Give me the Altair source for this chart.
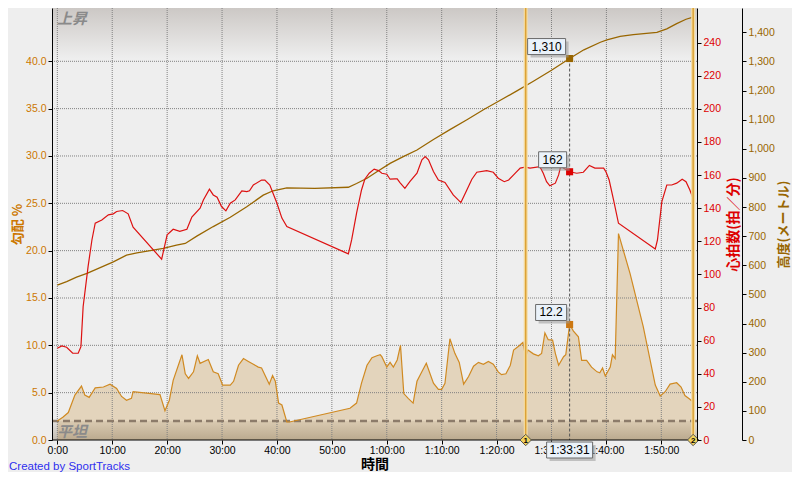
import altair as alt
import pandas as pd

# ---------------- data ----------------
grade_t = [0.0, 1.0, 2.0, 3.2, 4.4, 5.0, 5.8, 6.9, 8.4, 9.6, 10.8, 11.7, 12.6, 13.5, 13.8, 18.7,
           19.6, 20.4, 21.1, 22.7, 23.3, 23.9, 24.8, 25.5, 26.0, 27.5, 28.4, 29.3, 30.1, 31.5,
           32.1, 33.0, 33.9, 34.8, 35.7, 36.6, 37.2, 38.6, 39.2, 39.7, 40.3, 40.9, 41.8, 42.3,
           53.3, 54.5, 55.4, 56.4, 57.3, 58.2, 58.8, 59.1, 60.0, 60.6, 61.2, 61.9, 62.5, 63.1,
           63.9, 64.8, 65.5, 66.2, 67.2, 68.5, 69.4, 70.0, 70.6, 71.5, 72.4, 73.2, 74.0, 74.9,
           75.8, 76.7, 77.6, 78.5, 79.4, 80.3, 80.9, 81.7, 82.5, 83.1, 84.0, 84.8, 85.3, 85.7,
           86.7, 87.6, 88.2, 88.8, 89.4, 90.2, 90.7, 91.3, 92.2, 92.6, 93.3, 94.0, 94.9, 95.5,
           96.4, 97.3, 98.3, 98.8, 99.3, 99.8, 100.7, 101.1, 101.6, 102.2, 104.3, 106.7, 108.9,
           109.8, 110.7, 111.6, 112.8, 113.6, 114.3, 115.2, 116.0]
grade_v = [2.0, 2.4, 2.9, 4.75, 5.7, 4.75, 4.5, 5.5, 5.6, 5.9, 5.45, 4.6, 4.2, 4.4, 5.1, 4.8,
           3.1, 4.2, 6.3, 9.0, 7.0, 6.5, 7.2, 8.9, 8.1, 8.5, 7.2, 7.0, 5.8, 5.8,
           6.2, 7.9, 8.6, 8.3, 8.0, 7.7, 7.6, 5.9, 6.8, 6.2, 3.9, 3.7, 1.9, 1.9,
           3.35, 3.9, 6.0, 7.9, 8.7, 8.9, 9.0, 8.8, 7.7, 8.2, 7.7, 8.45, 10.0, 4.9,
           4.4, 3.9, 6.2, 7.0, 8.1, 6.0, 5.35, 5.35, 6.0, 10.7, 9.15, 8.2, 5.9, 6.7,
           7.8, 8.2, 8.0, 8.3, 8.0, 7.2, 6.9, 7.0, 7.9, 9.5, 9.9, 10.3, 8.8, 9.5,
           9.1, 8.9, 9.15, 11.3, 10.6, 10.55, 9.15, 7.9, 8.8, 9.0, 12.2, 11.5, 10.9, 8.4,
           8.4, 7.7, 7.2, 7.1, 7.6, 6.75, 7.7, 9.0, 8.6, 21.8, 17.6, 12.0, 5.8,
           4.65, 5.1, 5.9, 6.05, 5.6, 4.7, 4.3, 3.9]

hr_t = [0.0, 0.8, 1.7, 2.8, 3.8, 4.3, 4.7, 5.6, 6.3, 6.9, 8.1, 9.3, 10.2, 10.8, 11.9, 12.9,
        13.8, 19.0, 20.0, 21.1, 22.3, 23.6, 24.5, 26.0, 26.6, 27.7, 28.4, 29.1, 29.9, 30.7,
        31.5, 32.4, 33.6, 34.5, 35.0, 35.7, 37.2, 37.8, 38.7, 40.0, 40.9, 41.8, 53.0, 53.6,
        54.5, 55.4, 56.0, 56.8, 57.7, 58.5, 59.1, 60.0, 60.6, 61.5, 61.9, 62.4, 63.3, 64.2,
        65.5, 66.4, 67.0, 67.6, 68.5, 69.4, 70.6, 72.1, 73.5, 74.3, 75.5, 76.4, 78.2, 79.4,
        80.3, 81.4, 82.2, 83.1, 84.3, 85.2, 86.1, 87.9, 88.5, 89.1, 89.7, 90.7, 91.3, 91.7,
        92.3, 93.3, 94.6, 95.8, 96.9, 97.9, 99.5, 99.9, 100.5, 101.3, 102.2, 108.9, 109.3,
        110.1, 111.0, 111.9, 112.8, 113.8, 114.5, 115.2, 116.0]
hr_v = [55.4, 56.8, 56.0, 52.4, 52.4, 56.4, 80.5, 104.7, 120.8, 130.9, 132.9, 136.0, 136.6, 138.0, 138.6, 136.6,
        128.5, 109.2, 123.9, 127.3, 126.0, 127.3, 134.6, 140.0, 145.0, 151.5, 148.0, 146.6, 141.0, 138.4,
        143.0, 145.0, 150.5, 150.0, 150.5, 154.0, 157.0, 157.0, 154.0, 143.0, 134.0, 128.9, 112.4, 120.8,
        137.0, 151.0, 157.5, 161.1, 163.6, 162.7, 161.1, 160.5, 157.5, 157.7, 157.7, 155.5, 152.0, 156.0,
        161.1, 169.2, 171.2, 169.2, 162.1, 157.0, 155.5, 148.0, 143.4, 149.0, 157.5, 161.7, 162.7, 161.7,
        158.1, 156.0, 157.0, 160.1, 164.2, 164.8, 164.2, 165.1, 161.1, 156.0, 153.5, 155.1, 160.1, 165.6,
        164.0, 162.0, 161.1, 161.7, 165.8, 164.2, 164.2, 162.1, 157.0, 145.0, 130.9, 115.4, 120.8,
        144.0, 154.0, 154.0, 155.1, 157.5, 156.0, 151.0, 144.0]

elev_t = [0.0, 1.7, 3.5, 5.4, 7.8, 10.2, 12.6, 14.5, 16.9, 19.3, 21.7, 23.3, 25.4, 28.4, 31.5,
          34.5, 37.5, 39.3, 41.8, 46.9, 53.0, 54.5, 56.4, 58.2, 60.6, 63.0, 65.5, 68.5, 71.5,
          74.6, 77.6, 80.6, 83.7, 86.7, 90.0, 93.3, 95.9, 98.9, 100.1, 102.5, 104.9, 109.2,
          111.0, 112.8, 114.5, 115.8]
elev_v = [532, 544, 559, 572, 592, 612, 635, 643, 650, 658, 669, 675, 700, 733, 765,
          801, 841, 856, 866, 864, 868, 881, 899, 921, 950, 973, 996, 1032, 1066,
          1100, 1134, 1166, 1199, 1232, 1270, 1310, 1340, 1366, 1374, 1386, 1392, 1400,
          1412, 1430, 1445, 1452]

x_ticks = [0, 10, 20, 30, 40, 50, 60, 70, 80, 90, 100, 110]
grade_ticks = [0, 5, 10, 15, 20, 25, 30, 35, 40]
hr_ticks = [0, 20, 40, 60, 80, 100, 120, 140, 160, 180, 200, 220, 240]
elev_ticks = [0, 100, 200, 300, 400, 500, 600, 700, 800, 900, 1000, 1100, 1200, 1300, 1400]

marker_times = [85.3, 115.8]
marker_labels = ["1", "2"]
cursor_t = 93.3
cursor_label = "1:33:31"
cursor_grade, cursor_grade_label = 12.2, "12.2"
cursor_hr, cursor_hr_label = 162, "162"
cursor_elev, cursor_elev_label = 1310, "1,310"
flat_level = 2.0
rise_band = 40.3

# ---------------- scales / axes ----------------
W, H = 645, 432
X_DOM = [-0.97, 116.5]
G_DOM = [0, 45.63]
HR_DOM = [0, 260.9]
E_DOM = [0, 1483.6]

xs = alt.Scale(domain=X_DOM, nice=False, zero=False)
gs = alt.Scale(domain=G_DOM, nice=False, zero=False)
hs = alt.Scale(domain=HR_DOM, nice=False, zero=False)
es = alt.Scale(domain=E_DOM, nice=False, zero=False)

LF = "Liberation Sans"
JF = "Noto Sans CJK JP"

x_axis = alt.Axis(
    values=x_ticks,
    labelExpr="datum.value < 60 ? datum.value + ':00' : floor(datum.value / 60) + ':' + (datum.value % 60 < 10 ? '0' : '') + (datum.value % 60) + ':00'",
    title="時間", grid=False, domain=False, tickColor="#000000", tickSize=4,
    labelFont=LF, labelFontSize=10.5, labelColor="#000000", labelPadding=1,
    labelOverlap=False, labelFlush=False,
    titleFont=JF, titleFontSize=14, titleFontWeight="bold", titleColor="#000000",
    titlePadding=2, zindex=0)

g_axis = alt.Axis(
    orient="left", values=grade_ticks, format=".1f", title="勾配 %", grid=False,
    domainColor="#000000", tickColor="#000000", tickSize=4,
    labelFont=LF, labelFontSize=10.5, labelColor="#CC7700", labelPadding=2,
    titleFont=JF, titleFontSize=13, titleFontWeight="bold", titleColor="#CC7700",
    titlePadding=1, zindex=1)

hr_axis = alt.Axis(
    orient="right", values=hr_ticks, title="心拍数(拍／分)", grid=False,
    domainColor="#000000", tickColor="#000000", tickSize=4,
    labelFont=LF, labelFontSize=10.5, labelColor="#DD0000", labelPadding=2,
    titleFont=JF, titleFontSize=14, titleFontWeight="bold", titleColor="#DD0000",
    titleAngle=270, titleBaseline="top", titlePadding=6, zindex=1)

e_axis = alt.Axis(
    orient="right", offset=45, values=elev_ticks, format=",d", title="高度(メートル)", grid=False,
    domainColor="#000000", tickColor="#000000", tickSize=4,
    labelFont=LF, labelFontSize=10.5, labelColor="#996600", labelPadding=2,
    titleFont=JF, titleFontSize=13, titleFontWeight="bold", titleColor="#996600",
    titleAngle=270, titleBaseline="top", titlePadding=3, zindex=1)


def X(field="t"):
    # every layer carries the same x axis definition so that they merge into one
    return alt.X(f"{field}:Q", scale=xs, axis=x_axis)


def Y(field, scale, axis=None):
    return alt.Y(f"{field}:Q", scale=scale, axis=axis)


df_g = pd.DataFrame({"t": grade_t, "g": grade_v})
df_h = pd.DataFrame({"t": hr_t, "h": hr_v})
df_e = pd.DataFrame({"t": elev_t, "e": elev_v})

layers = []

# top "上昇" gradient band
top_df = pd.DataFrame({"t0": [X_DOM[0]], "t1": [X_DOM[1]], "g0": [rise_band], "g1": [G_DOM[1]]})
layers.append(alt.Chart(top_df).mark_rect(
    fill=alt.LinearGradient(gradient="linear", x1=0, x2=0, y1=0, y2=1,
                            stops=[alt.GradientStop(color="#CCC8C5", offset=0),
                                   alt.GradientStop(color="#EEEEEE", offset=1)])
).encode(x=X("t0"), x2="t1:Q", y=Y("g0", gs), y2="g1:Q"))

# grade area
layers.append(alt.Chart(df_g).mark_area(color="#E3D4BC", opacity=1).encode(
    x=X("t"), y=Y("g", gs, g_axis)))

# bottom "平坦" gradient band
bot_df = pd.DataFrame({"t0": [X_DOM[0]], "t1": [X_DOM[1]], "g0": [0], "g1": [flat_level]})
layers.append(alt.Chart(bot_df).mark_rect(
    fill=alt.LinearGradient(gradient="linear", x1=0, x2=0, y1=0, y2=1,
                            stops=[alt.GradientStop(color="rgba(110,88,55,0.08)", offset=0),
                                   alt.GradientStop(color="rgba(110,88,55,0.34)", offset=1)])
).encode(x=X("t0"), x2="t1:Q", y=Y("g0", gs), y2="g1:Q"))

# grid lines
layers.append(alt.Chart(pd.DataFrame({"t": x_ticks})).mark_rule(
    color="#808080", strokeDash=[1, 1], strokeWidth=1).encode(x=X("t")))
layers.append(alt.Chart(pd.DataFrame({"g": grade_ticks[1:]})).mark_rule(
    color="#808080", strokeDash=[1, 1], strokeWidth=1).encode(y=Y("g", gs)))

# flat dashed line
layers.append(alt.Chart(pd.DataFrame({"g": [flat_level]})).mark_rule(
    color="#8C7B6A", strokeWidth=2.5, strokeDash=[7, 4]).encode(y=Y("g", gs)))

# band labels
lab_df = pd.DataFrame({"t": [X_DOM[0], X_DOM[0]], "g": [G_DOM[1], flat_level], "txt": ["上昇", "平坦"]})
layers.append(alt.Chart(lab_df).mark_text(
    align="left", baseline="top", dx=5, dy=4, font=JF, fontSize=15, fontWeight="bold",
    fontStyle="italic", color="#8A8A8A").encode(x=X("t"), y=Y("g", gs), text="txt:N"))

# grade line
layers.append(alt.Chart(df_g).mark_line(color="#D08A22", strokeWidth=1.2).encode(
    x=X("t"), y=Y("g", gs)))

# elevation line
layers.append(alt.Chart(df_e).mark_line(color="#996600", strokeWidth=1.3).encode(
    x=X("t"), y=Y("e", es, e_axis)))

# heart rate line
layers.append(alt.Chart(df_h).mark_line(color="#DD1111", strokeWidth=1.2).encode(
    x=X("t"), y=Y("h", hs, hr_axis)))

# lap marker lines
mk_df = pd.DataFrame({"t": marker_times, "g": [0, 0], "lab": marker_labels})
layers.append(alt.Chart(mk_df).mark_rule(color="#F4DCA2", strokeWidth=4).encode(x=X("t")))
layers.append(alt.Chart(mk_df).mark_rule(color="#DCA236", strokeWidth=1.5).encode(x=X("t")))

# cursor line
cur_df = pd.DataFrame({"t": [cursor_t], "e": [cursor_elev], "e0": [0]})
layers.append(alt.Chart(cur_df).mark_rule(color="#555555", strokeDash=[3, 2], strokeWidth=1).encode(
    x=X("t"), y=Y("e", es), y2="e0:Q"))

# bottom axis line
layers.append(alt.Chart(pd.DataFrame({"g": [0]})).mark_rule(color="#000000", strokeWidth=1).encode(
    y=Y("g", gs)))


def label_box(t, v, scale, text, x0, x1, y0, y1, size=12):
    df = pd.DataFrame({"t": [t], "v": [v], "label": [text]})
    enc = dict(x=X("t"), x2="t:Q", y=Y("v", scale), y2="v:Q")
    out = [
        alt.Chart(df).mark_rect(fill="#9A9A9A", opacity=0.55, xOffset=x0 + 3, x2Offset=x1 + 3,
                                yOffset=y0 + 3, y2Offset=y1 + 3).encode(**enc),
        alt.Chart(df).mark_rect(fill="#EAF2FA", stroke="#6B6B6B", strokeWidth=1, xOffset=x0,
                                x2Offset=x1, yOffset=y0, y2Offset=y1).encode(**enc),
        alt.Chart(df).mark_text(dx=(x0 + x1) / 2, dy=(y0 + y1) / 2, align="center", baseline="middle",
                                font=LF, fontSize=size, color="#000000").encode(
            x=X("t"), y=Y("v", scale), text="label:N"),
    ]
    return out


# cursor points
for val, sc, col in [(cursor_elev, es, "#996600"), (cursor_hr, hs, "#DD0000"), (cursor_grade, gs, "#CC7711")]:
    layers.append(alt.Chart(pd.DataFrame({"t": [cursor_t], "v": [val]})).mark_point(
        shape="square", filled=True, size=50, color=col, opacity=1).encode(x=X("t"), y=Y("v", sc)))

layers += label_box(cursor_t, cursor_elev, es, cursor_elev_label, -42, -4, -20, -4)
layers += label_box(cursor_t, cursor_hr, hs, cursor_hr_label, -31, -3, -20, -4)
layers += label_box(cursor_t, cursor_grade, gs, cursor_grade_label, -34, -3, -20, -4)

# lap diamonds
layers.append(alt.Chart(mk_df).mark_point(
    shape="diamond", filled=True, size=130, fill="#F2D25C", stroke="#555555", strokeWidth=1, opacity=1
).encode(x=X("t"), y=Y("g", gs)))
layers.append(alt.Chart(mk_df).mark_text(
    font=LF, fontSize=8, fontWeight="bold", color="#000000", baseline="middle", align="center", dy=1
).encode(x=X("t"), y=Y("g", gs), text="lab:N"))

# time box on the axis
layers += label_box(cursor_t, 0, gs, cursor_label, -23, 23, 2, 18)

# footer
layers.append(alt.Chart(pd.DataFrame({"a": [0]})).mark_text(
    text="Created by SportTracks", align="left", baseline="alphabetic", font=LF, fontSize=11.5,
    color="#2F2FEF").encode(x=alt.value(-43), y=alt.value(462)))

chart = alt.layer(*layers).resolve_scale(y="independent").properties(
    width=W, height=H,
    padding={"left": 44, "top": 0, "right": 95, "bottom": 32},
    autosize=alt.AutoSizeParams(type="none"),
    background="#EEEEEE",
).configure_view(stroke=None)

chart.save("out.html", embed_options={"renderer": "svg", "actions": False})
